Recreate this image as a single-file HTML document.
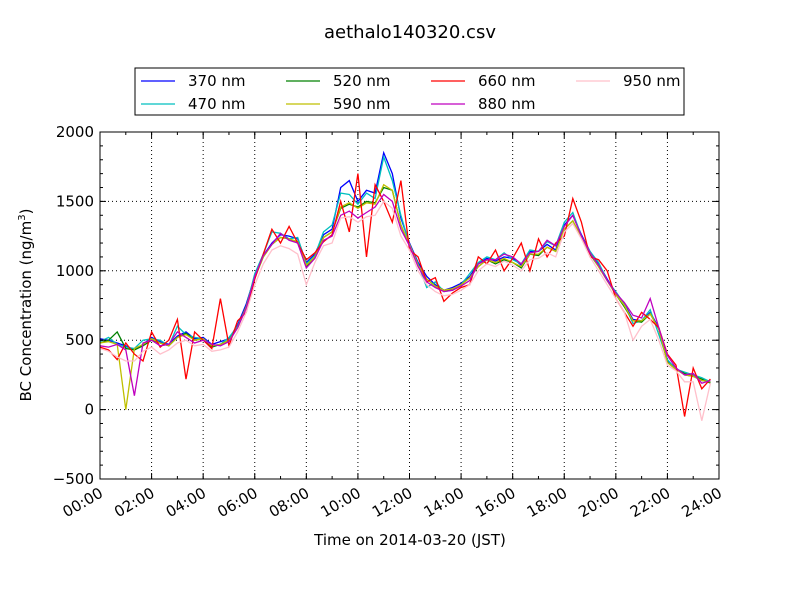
<!DOCTYPE html>
<html><head><meta charset="utf-8"><style>
body{margin:0;background:#fff;font-family:"Liberation Sans","DejaVu Sans",sans-serif}
svg text{font-family:"DejaVu Sans","Liberation Sans",sans-serif}
</style></head><body>
<svg id="chart" width="800" height="600" xmlns="http://www.w3.org/2000/svg">
<rect width="800" height="600" fill="#fff"/>
<text x="410" y="38" font-size="18" text-anchor="middle">aethalo140320.csv</text>
<g id="grid"></g><g id="series"></g><g id="axes"></g>
<text x="410" y="545" font-size="15" text-anchor="middle">Time on 2014-03-20 (JST)</text>
<text transform="translate(31,305) rotate(-90)" font-size="15" text-anchor="middle">BC Concentration (ng/m<tspan font-size="10" dy="-6">3</tspan><tspan dy="6">)</tspan></text>
<g id="legend"></g>
</svg>
<script>
const seriesNames=["370 nm","470 nm","520 nm","590 nm","660 nm","880 nm","950 nm"];
const seriesColors=["#0000ff","#00bfbf","#008000","#bfbf00","#ff0000","#bf00bf","#ffc0cb"];
const timesHours=Array.from({length:72},(_, i)=>i/3);
const s370=[510,500,480,460,430,470,520,490,470,530,560,510,520,470,490,510,610,760,960,1110,1200,1260,1250,1230,1060,1120,1260,1300,1600,1650,1500,1580,1560,1850,1700,1380,1200,1060,960,900,860,880,910,960,1050,1090,1070,1100,1090,1040,1140,1140,1190,1150,1330,1400,1260,1140,1050,940,840,760,650,640,700,590,350,300,250,240,210,200];
const s470=[490,520,470,450,440,500,510,500,460,600,540,520,510,460,470,520,600,740,980,1120,1280,1270,1230,1240,1050,1110,1280,1330,1560,1550,1480,1560,1520,1820,1650,1400,1190,1050,880,920,850,860,900,980,1060,1100,1080,1130,1080,1050,1150,1140,1210,1180,1350,1420,1250,1140,1060,930,850,760,620,640,720,540,360,290,270,250,230,200];
const s520=[480,500,560,440,430,460,500,480,460,520,550,500,510,450,470,500,590,740,950,1100,1190,1240,1230,1200,1030,1100,1240,1280,1450,1480,1460,1500,1490,1600,1580,1330,1180,1040,940,890,860,860,900,950,1030,1080,1050,1080,1060,1020,1120,1110,1170,1140,1300,1360,1240,1120,1030,930,830,740,640,630,690,580,340,290,260,240,220,190];
const s590=[480,490,470,0,440,470,510,480,460,520,540,500,510,460,470,500,590,740,950,1100,1190,1240,1230,1210,1040,1100,1240,1280,1460,1490,1450,1490,1480,1620,1580,1330,1190,1040,940,890,860,870,900,950,1030,1080,1060,1090,1060,1030,1120,1120,1170,1140,1300,1360,1240,1130,1030,930,830,750,640,640,690,580,340,290,250,240,210,200];
const s660=[450,430,360,480,400,350,560,450,500,650,220,560,500,440,800,460,640,700,940,1120,1300,1200,1320,1200,1080,1130,1210,1260,1500,1280,1700,1100,1620,1500,1350,1650,1150,1100,920,950,780,840,880,900,1100,1050,1150,1000,1090,1200,1000,1230,1100,1200,1250,1520,1350,1100,1080,1000,800,700,600,700,650,590,400,320,-50,300,150,220];
const s880=[460,450,470,430,100,480,500,460,470,560,520,480,500,470,460,490,590,730,960,1110,1190,1270,1220,1200,1020,1090,1220,1250,1400,1430,1380,1420,1460,1550,1500,1300,1180,1030,920,880,850,860,890,930,1050,1080,1080,1120,1100,1050,1130,1140,1220,1180,1320,1400,1250,1130,1040,930,840,770,680,660,800,590,390,300,250,260,190,210];
const s950=[440,420,380,350,350,420,450,400,430,480,500,460,470,420,430,450,560,700,900,1050,1150,1180,1160,1120,900,1060,1180,1200,1380,1390,1350,1390,1400,1500,1450,1250,1150,1000,900,850,820,830,860,900,1000,1050,1030,1070,1040,1000,1080,1090,1130,1100,1280,1340,1230,1100,1000,900,800,700,500,600,650,500,320,280,200,200,-80,190];
const seriesData=[s370,s470,s520,s590,s660,s880,s950];
const yTicks=[-500,0,500,1000,1500,2000];
const xTickLabels=["00:00","02:00","04:00","06:00","08:00","10:00","12:00","14:00","16:00","18:00","20:00","22:00","24:00"];
const X0=100,X1=719,Y0=479,Y1=132;
const xs=h=>X0+(X1-X0)*h/24;
const ys=v=>Y0-(Y0-Y1)*(v+500)/2500;
const NS="http://www.w3.org/2000/svg";
function mk(t,a,p){const e=document.createElementNS(NS,t);for(const k in a)e.setAttribute(k,a[k]);p.appendChild(e);return e;}
const grid=document.getElementById('grid'),axes=document.getElementById('axes'),ser=document.getElementById('series'),leg=document.getElementById('legend');
yTicks.forEach(v=>{const y=ys(v);
 const g=mk('line',{x1:X0,x2:X1,y1:y,y2:y,stroke:'#000','stroke-width':1,'stroke-dasharray':'1,3'},grid);
 
 
 const t=mk('text',{x:X0-6,y:y+5,'font-size':15,'text-anchor':'end'},axes);t.textContent=(v<0?'\u2212'+(-v):v);
 
 
 mk('line',{x1:X0,x2:X0+6,y1:y,y2:y,stroke:'#000'},axes);mk('line',{x1:X1,x2:X1-6,y1:y,y2:y,stroke:'#000'},axes);});
for(let v=-500;v<=2000;v+=100){const y=ys(v);mk('line',{x1:X0,x2:X0+3,y1:y,y2:y,stroke:'#000'},axes);mk('line',{x1:X1,x2:X1-3,y1:y,y2:y,stroke:'#000'},axes);}
xTickLabels.forEach((l,i)=>{const x=xs(i*2);
 const g=mk('line',{x1:x,x2:x,y1:Y0,y2:Y1,stroke:'#000','stroke-width':1,'stroke-dasharray':'1,3'},grid);
 
 
 mk('line',{x1:x,x2:x,y1:Y0,y2:Y0-6,stroke:'#000'},axes);mk('line',{x1:x,x2:x,y1:Y1,y2:Y1+6,stroke:'#000'},axes);
 const t=mk('text',{transform:`translate(${x+4},${Y0+17}) rotate(-30)`,'font-size':15,'text-anchor':'end'},axes);t.textContent=l;
 
 });
for(let h=0;h<=24;h++){const x=xs(h);mk('line',{x1:x,x2:x,y1:Y0,y2:Y0-3,stroke:'#000'},axes);mk('line',{x1:x,x2:x,y1:Y1,y2:Y1+3,stroke:'#000'},axes);}
const fr=mk('rect',{x:X0,y:Y1,width:X1-X0,height:Y0-Y1,fill:'none',stroke:'#000'},axes);


seriesData.forEach((d,si)=>{const pts=d.map((v,i)=>xs(timesHours[i]).toFixed(1)+','+ys(v).toFixed(1)).join(' ');
 const p=mk('polyline',{points:pts,fill:'none',stroke:seriesColors[si],'stroke-width':1.3},ser);
 
 });
mk('rect',{x:135,y:68,width:549,height:47,fill:'#fff',stroke:'#000'},leg);
seriesNames.forEach((n,i)=>{const col=Math.floor(i/2),row=i%2;const x=141+col*145,y=81+row*23;
 const g=mk('g',{},leg);
 
 
 mk('line',{x1:x,x2:x+34,y1:y,y2:y,stroke:seriesColors[i],'stroke-width':1.3},g);
 const t=mk('text',{x:x+47,y:y+5,'font-size':15},g);t.textContent=n;});
</script>
</body></html>
